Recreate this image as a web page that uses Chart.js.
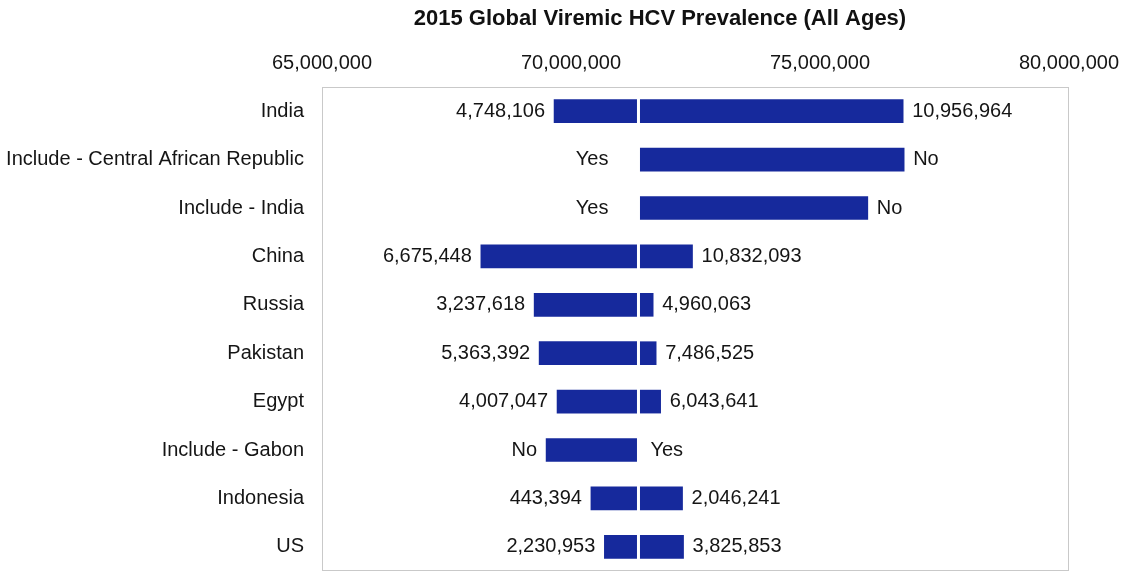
<!DOCTYPE html>
<html>
<head>
<meta charset="utf-8">
<script src="https://cdn.jsdelivr.net/npm/chart.js@4"></script>
<style>
  html, body { margin: 0; padding: 0; background: #fff; overflow: hidden; }
  canvas { display: block; }
</style>
</head>
<body>
<canvas id="tornado" width="1125" height="573"></canvas>
<script>
// tornado data
var categories = ['India', 'Include - Central African Republic', 'Include - India', 'China', 'Russia',
  'Pakistan', 'Egypt', 'Include - Gabon', 'Indonesia', 'US'];
var baseValue = 71355000;
var lowEnds = [69660000, null, null, 68190000, 69260000, 69360000, 69720000, 69500000, 70400000, 70670000];
var highEnds = [76670000, 76690000, 75960000, 72440000, 71650000, 71710000, 71800000, null, 72240000, 72260000];
var leftLabels = ['4,748,106', 'Yes', 'Yes', '6,675,448', '3,237,618', '5,363,392', '4,007,047', 'No', '443,394', '2,230,953'];
var rightLabels = ['10,956,964', 'No', 'No', '10,832,093', '4,960,063', '7,486,525', '6,043,641', 'Yes', '2,046,241', '3,825,853'];
var axisMin = 65000000, axisMax = 80000000, axisStep = 5000000;

var FONT = "'Liberation Sans', Arial, sans-serif";
var barColor = '#16299c';
var txtColor = '#151515';

var lowData = lowEnds.map(function (v) { return v == null ? null : [v, baseValue]; });
var highData = highEnds.map(function (v) { return v == null ? null : [baseValue, v]; });

function noPad(s) {
  s.paddingTop = 0; s.paddingBottom = 0; s.paddingLeft = 0; s.paddingRight = 0;
}

// frame + centre line + end labels + title
var tornadoExtras = {
  id: 'tornadoExtras',
  beforeDatasetsDraw: function (chart) {
    var c = chart.ctx, a = chart.chartArea;
    c.save();
    c.strokeStyle = '#c9c9c9';
    c.lineWidth = 1;
    c.strokeRect(a.left + 0.5, a.top + 0.5, a.right - a.left - 1, a.bottom - a.top - 1);
    c.restore();
  },
  afterDatasetsDraw: function (chart) {
    var c = chart.ctx, a = chart.chartArea;
    var xs = chart.scales.x, ys = chart.scales.y;
    var bx = xs.getPixelForValue(baseValue);
    c.save();
    c.strokeStyle = '#ffffff';
    c.lineWidth = 3;
    c.beginPath();
    c.moveTo(bx, a.top + 1);
    c.lineTo(bx, a.bottom - 1);
    c.stroke();

    c.font = '20px ' + FONT;
    c.fillStyle = txtColor;
    c.textBaseline = 'middle';
    for (var i = 0; i < categories.length; i++) {
      var y = ys.getPixelForValue(i);
      c.textAlign = 'right';
      if (lowEnds[i] != null) c.fillText(leftLabels[i], xs.getPixelForValue(lowEnds[i]) - 9, y);
      else c.fillText(leftLabels[i], bx - 30, y);
      c.textAlign = 'left';
      if (highEnds[i] != null) c.fillText(rightLabels[i], xs.getPixelForValue(highEnds[i]) + 9, y);
      else c.fillText(rightLabels[i], bx + 12, y);
    }
    c.font = 'bold 22px ' + FONT;
    c.fillStyle = '#111';
    c.textAlign = 'center';
    c.fillText('2015 Global Viremic HCV Prevalence (All Ages)', 660, 19);
    c.restore();
  }
};

var ctx = document.getElementById('tornado');
var tornadoChart = new Chart(ctx, {
  type: 'bar',
  data: {
    labels: categories,
    datasets: [{
      label: 'low',
      data: lowData,
      backgroundColor: barColor,
      borderWidth: 0,
      grouped: false,
      barThickness: 23
    }, {
      label: 'high',
      data: highData,
      backgroundColor: barColor,
      borderWidth: 0,
      grouped: false,
      barThickness: 23
    }]
  },
  options: {
    indexAxis: 'y',
    responsive: false,
    animation: false,
    layout: { padding: { top: 0, bottom: 2, left: 0, right: 56 } },
    plugins: {
      legend: { display: false },
      tooltip: { enabled: false },
      title: { display: false }
    },
    scales: {
      x: {
        position: 'top',
        min: axisMin,
        max: axisMax,
        afterFit: function (s) { s.height = 87; noPad(s); },
        grid: { display: false, drawTicks: false },
        border: { display: false },
        ticks: {
          stepSize: axisStep,
          padding: 12,
          maxRotation: 0,
          color: txtColor,
          font: { family: FONT, size: 20 },
          callback: function (v) { return Number(v).toLocaleString('en-US'); }
        }
      },
      y: {
        afterFit: function (s) { s.width = 322; noPad(s); },
        grid: { display: false, drawTicks: false },
        border: { display: false },
        ticks: {
          padding: 18,
          color: txtColor,
          font: { family: FONT, size: 20 }
        }
      }
    }
  },
  plugins: [tornadoExtras]
});
</script>
</body>
</html>
